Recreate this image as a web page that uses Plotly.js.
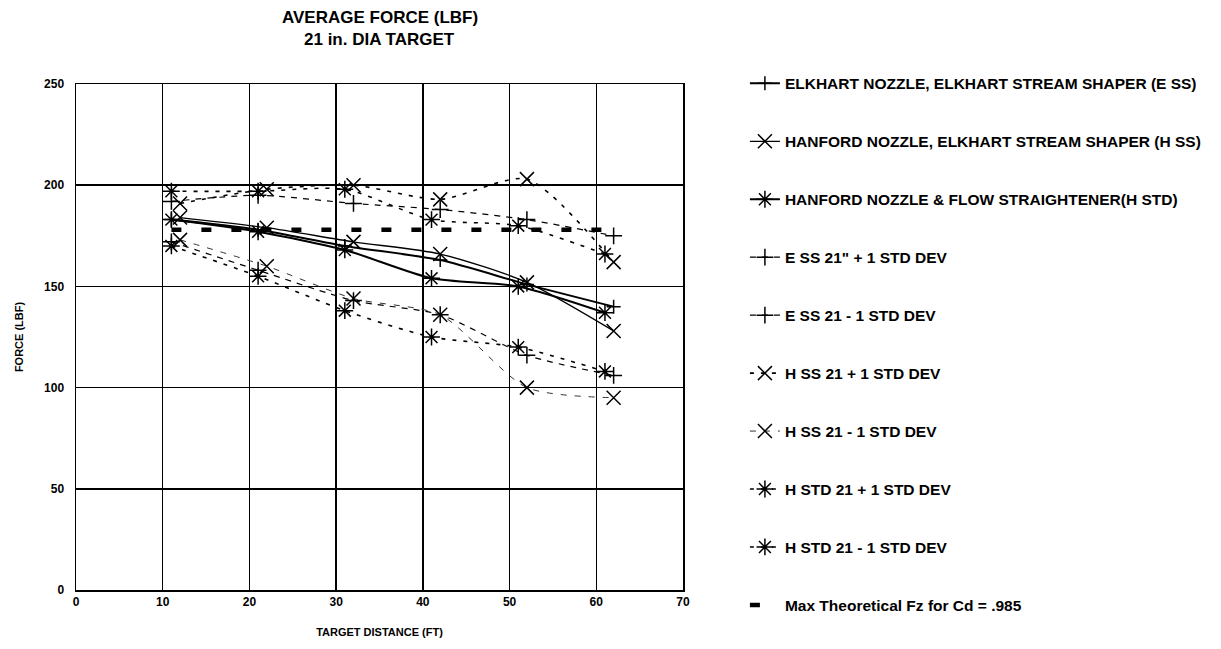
<!DOCTYPE html>
<html>
<head>
<meta charset="utf-8">
<script src="https://cdn.plot.ly/plotly-3.0.1.min.js"></script>
<style>
html,body{margin:0;padding:0;background:#fff;}
#chart{width:1221px;height:649px;}
</style>
</head>
<body>
<div id="chart"></div>
<script>
// ---- data ----
const xEss   = [11, 21, 31, 42, 52, 62];
const yEss   = [183, 178, 170, 163, 151, 140];
const xHss   = [12, 22, 32, 42, 52, 62];
const yHss   = [184, 179, 172, 166, 152, 128];
const xHstd  = [11, 21, 31, 41, 51, 61];
const yHstd  = [183, 177, 168, 154, 150, 137];

const xEssPlus  = [11, 21, 32, 42, 52, 62];
const yEssPlus  = [192, 195, 191, 188, 183, 175];
const xEssMinus = [11, 21, 32, 42, 52, 62];
const yEssMinus = [172, 158, 143, 136, 116, 106];

const xHssPlus  = [12, 22, 32, 42, 52, 62];
const yHssPlus  = [191, 198, 200, 193, 203, 162];
const xHssMinus = [12, 22, 32, 42, 52, 62];
const yHssMinus = [173, 160, 144, 136, 100, 95];

const xHstdPlus  = [11, 21, 31, 41, 51, 61];
const yHstdPlus  = [197, 197, 198, 183, 180, 166];
const xHstdMinus = [11, 21, 31, 41, 51, 61];
const yHstdMinus = [170, 155, 138, 125, 120, 108];

const xMax = [11, 61];
const yMax = [178, 178];

const names = [
  'ELKHART NOZZLE, ELKHART STREAM SHAPER (E SS)',
  'HANFORD NOZZLE, ELKHART STREAM SHAPER (H SS)',
  'HANFORD NOZZLE &amp; FLOW STRAIGHTENER(H STD)',
  'E SS 21" + 1 STD DEV',
  'E SS 21 - 1 STD DEV',
  'H SS 21 + 1 STD DEV',
  'H SS 21 - 1 STD DEV',
  'H STD 21 + 1 STD DEV',
  'H STD 21 - 1 STD DEV',
  'Max Theoretical Fz for Cd = .985'
];
const titleLines = ['AVERAGE FORCE (LBF)', '21 in. DIA TARGET'];
const xTicks = [0, 10, 20, 30, 40, 50, 60, 70];
const yTicks = [0, 50, 100, 150, 200, 250];

function tr(i, x, y, sym, size, width, dash, color) {
  return {
    type: 'scatter', mode: 'lines+markers', x: x, y: y, name: '<b>' + names[i] + '</b>',
    legendgroup: 'g' + i,
    line: {color: color || '#000', width: width, dash: dash, shape: 'spline', smoothing: 0.7},
    marker: {symbol: sym, size: size, color: '#000', line: {color: '#000', width: 1.5}}
  };
}

const data = [
  tr(0, xEss, yEss, 'cross-thin-open', 10, 2, 'solid'),
  tr(1, xHss, yHss, 'x-thin-open', 14, 1.3, 'solid'),
  tr(2, xHstd, yHstd, 'asterisk-open', 14, 2, 'solid'),
  tr(3, xEssPlus, yEssPlus, 'cross-thin-open', 12, 1.2, '6px,6px'),
  tr(4, xEssMinus, yEssMinus, 'cross-thin-open', 12, 1.2, '6px,6px'),
  tr(5, xHssPlus, yHssPlus, 'x-thin-open', 14, 1.6, '4px,7px'),
  tr(6, xHssMinus, yHssMinus, 'x-thin-open', 14, 1, '6px,8px', '#333'),
  tr(7, xHstdPlus, yHstdPlus, 'asterisk-open', 14, 1.6, '4px,7px'),
  tr(8, xHstdMinus, yHstdMinus, 'asterisk-open', 14, 1.6, '4px,7px'),
  {type: 'scatter', mode: 'lines', x: xMax, y: yMax, name: '<b>' + names[9] + '</b>', legendgroup: 'g9',
   line: {color: '#000', width: 4.5, dash: '10px,20px'}}
];

const font = {family: 'Liberation Sans, Arial, sans-serif', color: '#000'};

const layout = {
  width: 1221, height: 649,
  margin: {l: 76, r: 538, t: 84, b: 59},
  paper_bgcolor: '#fff', plot_bgcolor: '#fff',
  font: Object.assign({size: 11}, font),
  annotations: [
    {text: '<b>' + titleLines[0] + '</b>', xref: 'paper', yref: 'paper', x: 0.5, y: 1.132,
     xanchor: 'center', yanchor: 'middle', showarrow: false, font: Object.assign({}, font, {size: 17})},
    {text: '<b>' + titleLines[1] + '</b>', xref: 'paper', yref: 'paper', x: 0.5, y: 1.087,
     xanchor: 'center', yanchor: 'middle', showarrow: false, font: Object.assign({}, font, {size: 17})}
  ],
  xaxis: {
    range: [0, 70], tickvals: xTicks, ticktext: xTicks.map(v => '<b>' + v + '</b>'),
    showgrid: true, gridcolor: '#000', gridwidth: 1.5,
    showline: true, linecolor: '#000', linewidth: 1.5, mirror: true,
    zeroline: false, ticks: '', tickfont: Object.assign({}, font, {size: 12}),
    title: {text: '<b>TARGET DISTANCE (FT)</b>', font: Object.assign({}, font, {size: 11}), standoff: 20}
  },
  yaxis: {
    range: [0, 250], tickvals: yTicks, ticktext: yTicks.map(v => '<b>' + v + '</b>'),
    showgrid: true, gridcolor: '#000', gridwidth: 1.5,
    showline: true, linecolor: '#000', linewidth: 1.5, mirror: true,
    zeroline: false, ticks: '', ticklabelstandoff: 8, tickfont: Object.assign({}, font, {size: 12}),
    title: {text: '<b>FORCE (LBF)</b>', font: Object.assign({}, font, {size: 11}), standoff: 18}
  },
  showlegend: true,
  legend: {
    x: 1.102, xanchor: 'left', y: 1.034, yanchor: 'top',
    tracegroupgap: 34.8, traceorder: 'grouped', maxheight: 640,
    font: Object.assign({}, font, {size: 15.5}),
    bgcolor: 'rgba(0,0,0,0)', borderwidth: 0
  }
};

Plotly.newPlot('chart', data, layout, {displayModeBar: false, staticPlot: true});
</script>
</body>
</html>
